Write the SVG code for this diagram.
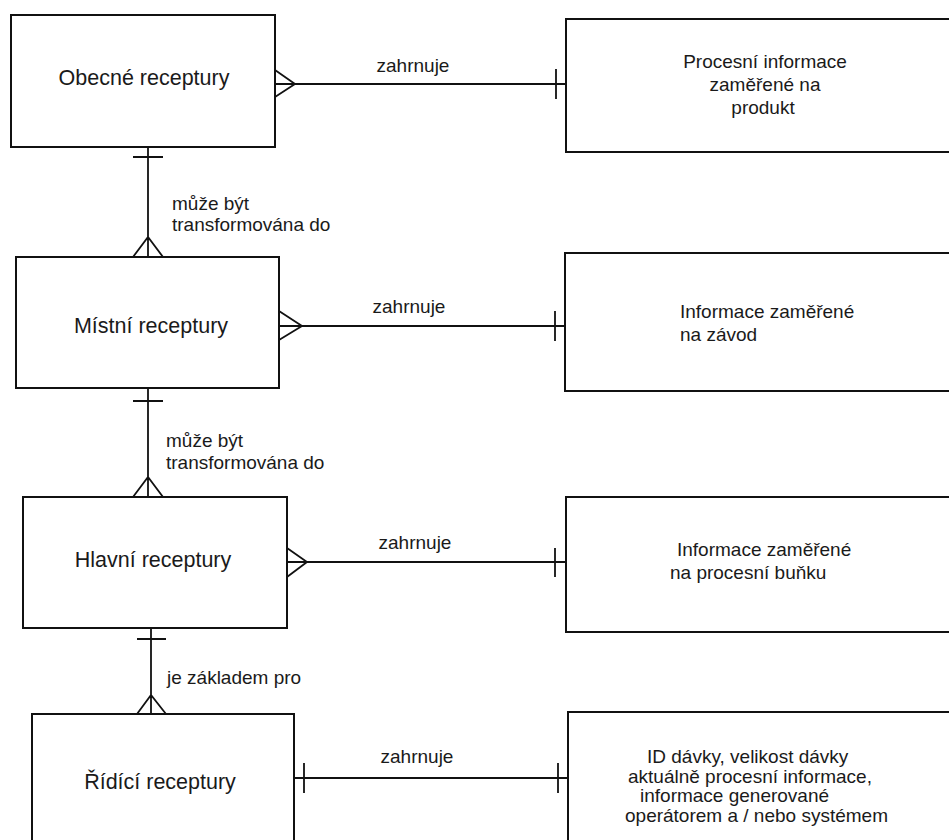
<svg xmlns="http://www.w3.org/2000/svg" width="949" height="840" viewBox="0 0 949 840">
  <style>
    .box { fill: #ffffff; stroke: #111111; stroke-width: 2; }
    .conn { fill: none; stroke: #111111; stroke-width: 1.8; }
    .name { font-family: "Liberation Sans", Arial, sans-serif; font-size: 21.5px; fill: #1a1a1a; text-anchor: middle; }
    .txt { font-family: "Liberation Sans", Arial, sans-serif; font-size: 19px; fill: #1a1a1a; }
    .mid { text-anchor: middle; }
  </style>
  <rect width="949" height="840" fill="#ffffff"/>

  <!-- recipe levels (left column) -->
  <g id="obecne">
    <rect class="box" x="11" y="15" width="264" height="132"/>
    <text class="name" x="144" y="85">Obecné receptury</text>
  </g>
  <g id="mistni">
    <rect class="box" x="16" y="257" width="263" height="131"/>
    <text class="name" x="151" y="333">Místní receptury</text>
  </g>
  <g id="hlavni">
    <rect class="box" x="23" y="497" width="264" height="131"/>
    <text class="name" x="153" y="567">Hlavní receptury</text>
  </g>
  <g id="ridici">
    <rect class="box" x="32" y="714" width="262" height="140"/>
    <text class="name" x="160" y="789">Řídící receptury</text>
  </g>

  <!-- information content (right column) -->
  <g id="info-produkt">
    <rect class="box" x="566" y="19" width="400" height="133"/>
    <text class="txt mid" x="765" y="68">Procesní informace</text>
    <text class="txt mid" x="765" y="91">zaměřené na</text>
    <text class="txt mid" x="763" y="114">produkt</text>
  </g>
  <g id="info-zavod">
    <rect class="box" x="565" y="253" width="400" height="138"/>
    <text class="txt" x="680" y="318">Informace zaměřené</text>
    <text class="txt" x="680" y="341">na závod</text>
  </g>
  <g id="info-bunka">
    <rect class="box" x="566" y="497" width="400" height="135"/>
    <text class="txt" x="677" y="556">Informace zaměřené</text>
    <text class="txt" x="670" y="579">na procesní buňku</text>
  </g>
  <g id="info-davka">
    <rect class="box" x="568" y="712" width="400" height="150"/>
    <text class="txt" x="647" y="763">ID dávky, velikost dávky</text>
    <text class="txt" x="628" y="783">aktuálně procesní informace,</text>
    <text class="txt" x="640" y="802">informace generované</text>
    <text class="txt" x="625" y="822">operátorem a / nebo systémem</text>
  </g>

  <!-- relationships -->
  <g id="connectors">
    <!-- Obecné -> Procesní informace -->
    <path class="conn" d="M275 84 H566 M275 70 L295 84 L275 97 M556 69 V99"/>
    <text class="txt mid" x="413" y="72">zahrnuje</text>

    <!-- Místní -> Informace na závod -->
    <path class="conn" d="M279 326 H565 M279 311 L302 326 L279 340 M555 311 V341"/>
    <text class="txt mid" x="409" y="313">zahrnuje</text>

    <!-- Hlavní -> Informace na buňku -->
    <path class="conn" d="M287 562 H566 M287 548 L307 562 L287 577 M555 548 V577"/>
    <text class="txt mid" x="415" y="549">zahrnuje</text>

    <!-- Řídící -> dávka -->
    <path class="conn" d="M294 778 H568 M304 763 V793 M558 763 V793"/>
    <text class="txt mid" x="417" y="763">zahrnuje</text>

    <!-- Obecné -> Místní -->
    <path class="conn" d="M148 147 V257 M133 157 H163 M133 257 L148 237 L163 257"/>
    <text class="txt" x="172" y="210">může být</text>
    <text class="txt" x="172" y="231">transformována do</text>

    <!-- Místní -> Hlavní -->
    <path class="conn" d="M148 388 V497 M133 401 H163 M133 497 L148 477 L163 497"/>
    <text class="txt" x="166" y="447">může být</text>
    <text class="txt" x="166" y="469">transformována do</text>

    <!-- Hlavní -> Řídící -->
    <path class="conn" d="M151 628 V714 M137 639 H166 M137 714 L151 695 L166 714" stroke-width="2.2"/>
    <text class="txt" x="167" y="684">je základem pro</text>
  </g>
</svg>
